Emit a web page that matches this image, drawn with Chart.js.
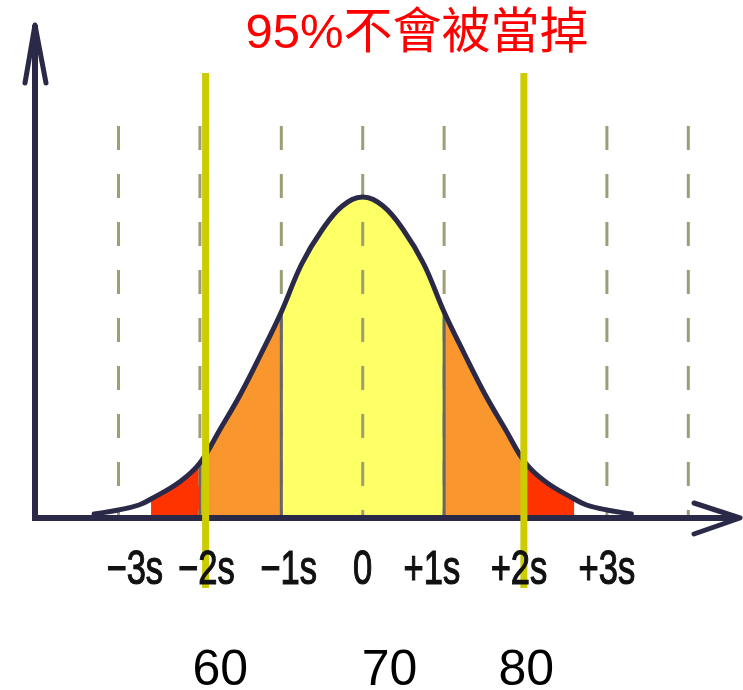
<!DOCTYPE html>
<html><head><meta charset="utf-8">
<script src="https://cdn.jsdelivr.net/npm/chart.js@4/dist/chart.umd.min.js"></script>
<style>html,body{margin:0;padding:0;background:#fff;}canvas{display:block;}</style>
</head><body>
<canvas id="c" width="743" height="690"></canvas>
<script>
// ---- data ----
const titleText = '95%不會被當掉';
const curveX = [-3.3,-3,-2.75,-2.6,-2.25,-2,-1.75,-1.5,-1.25,-1,-0.75,-0.5,-0.25,0,0.25,0.5,0.75,1,1.25,1.5,1.75,2,2.25,2.6,2.75,3,3.3];
const curveY = [4,8,13,19,36,55,89,124,164,206,254,288,312,321,312,288,254,206,164,124,89,55,36,19,13,8,4];
const regionFrom = [-2.6,-2,-1,1,2];
const regionTo   = [-2,-1,1,2,2.6];
const boundaryAt = [-2,-1,1,2];
const dashAt = [-3,-2,-1,0,1,2,3,4];
const dashTop = 392;
const cutoffAt = [-1.93, 1.98];
const cutoffTop = 445, cutoffBottom = -70;
const tickLabels = ['\u22123s','\u22122s','\u22121s','0','+1s','+2s','+3s'];
const tickAt = [-2.8,-1.92,-0.91,0,0.85,1.92,3.0];
const scoreLabels = ['60','70','80'];
const scoreAt = [-1.75,0.33,2.01];

// ---- styles ----
const regionColors = ['#ff3300','#f9962e','#ffff66','#f9962e','#ff3300'];
const NAVY = '#2a2a48';

const pts = curveX.map((x,i)=>({x, y:curveY[i]}));
const heightAt = v => { const i = curveX.indexOf(v); return i>=0 ? curveY[i] : 0; };

const datasets = [];
regionFrom.forEach((f,i)=>{
  datasets.push({id:'region', data: pts.filter(p=>p.x>=f && p.x<=regionTo[i]),
    fill:'origin', backgroundColor: regionColors[i], borderWidth:0, pointRadius:0,
    tension:0.4, order:5});
});
dashAt.forEach(v=>{
  datasets.push({id:'dash', data:[{x:v,y:dashTop},{x:v,y:0}], borderColor:'#9e9e76',
    borderWidth:3, borderDash:[24,24], pointRadius:0, fill:false, order:4});
});
boundaryAt.forEach(v=>{
  datasets.push({id:'bound', data:[{x:v,y:0},{x:v,y:heightAt(v)}], borderColor:'#666666',
    borderWidth: Math.abs(v)===1 ? 3 : 2, pointRadius:0, fill:false, order:3});
});
datasets.push({id:'curve', data: pts, borderColor: NAVY, borderWidth:5, pointRadius:0,
  fill:false, tension:0.4, order:2, borderCapStyle:'round'});
cutoffAt.forEach(v=>{
  datasets.push({id:'cut', data:[{x:v,y:cutoffTop},{x:v,y:cutoffBottom}], borderColor:'#cccc00',
    borderWidth:7, pointRadius:0, fill:false, clip:false, order:0});
});

const decor = {
  id:'decor',
  afterDatasetDraw(chart, args){
    const ds = chart.data.datasets[args.index];
    if (ds.id !== 'curve') return;
    const ctx = chart.ctx, ca = chart.chartArea;
    const y0 = chart.scales.y.getPixelForValue(0);
    const xa = ca.left;
    ctx.save();
    ctx.strokeStyle = NAVY; ctx.lineWidth = 6; ctx.lineCap='butt';
    ctx.beginPath(); ctx.moveTo(xa, y0+3); ctx.lineTo(xa, ca.top); ctx.stroke();
    ctx.beginPath(); ctx.moveTo(xa-3, y0); ctx.lineTo(ca.right-2, y0); ctx.stroke();
    ctx.lineWidth = 5; ctx.lineJoin='round'; ctx.lineCap='round';
    ctx.beginPath(); ctx.moveTo(xa-10, ca.top+58); ctx.lineTo(xa, ca.top); ctx.lineTo(xa+11, ca.top+58); ctx.stroke();
    ctx.beginPath(); ctx.moveTo(ca.right-46, y0-15); ctx.lineTo(ca.right, y0); ctx.lineTo(ca.right-46, y0+16); ctx.stroke();
    ctx.restore();
  },
  afterDraw(chart){
    const ctx = chart.ctx, xs = chart.scales.x;
    const y0 = chart.scales.y.getPixelForValue(0);
    ctx.save();
    // title
    ctx.fillStyle = '#ff0000';
    ctx.font = '49px "Liberation Sans", "Noto Sans CJK TC", sans-serif';
    ctx.textAlign = 'center'; ctx.textBaseline = 'alphabetic';
    ctx.fillText(titleText, 417, 48);
    // sigma labels (condensed)
    ctx.fillStyle = '#111111'; ctx.strokeStyle = '#111111'; ctx.lineWidth = 1.2;
    ctx.font = '48px "Liberation Sans", sans-serif';
    tickLabels.forEach((t,i)=>{
      const px = xs.getPixelForValue(tickAt[i]);
      ctx.save(); ctx.translate(px, y0+66); ctx.scale(0.72,1);
      ctx.fillText(t, 0, 0); ctx.strokeText(t, 0, 0); ctx.restore();
    });
    // score labels
    ctx.fillStyle = '#000000';
    ctx.font = '50px "Liberation Sans", Arial, sans-serif';
    scoreLabels.forEach((t,i)=>{
      ctx.fillText(t, xs.getPixelForValue(scoreAt[i]), y0+167);
    });
    ctx.restore();
  }
};

new Chart(document.getElementById('c'), {
  type:'line',
  data:{datasets},
  options:{
    responsive:false, animation:false, devicePixelRatio:1,
    layout:{padding:{left:35,right:3,top:25,bottom:172}},
    plugins:{legend:{display:false}, tooltip:{enabled:false}, title:{display:false}},
    scales:{
      x:{type:'linear', min:-4.026, max:4.635, display:false},
      y:{min:0, max:493, display:false}
    }
  },
  plugins:[decor]
});
</script>
</body></html>
